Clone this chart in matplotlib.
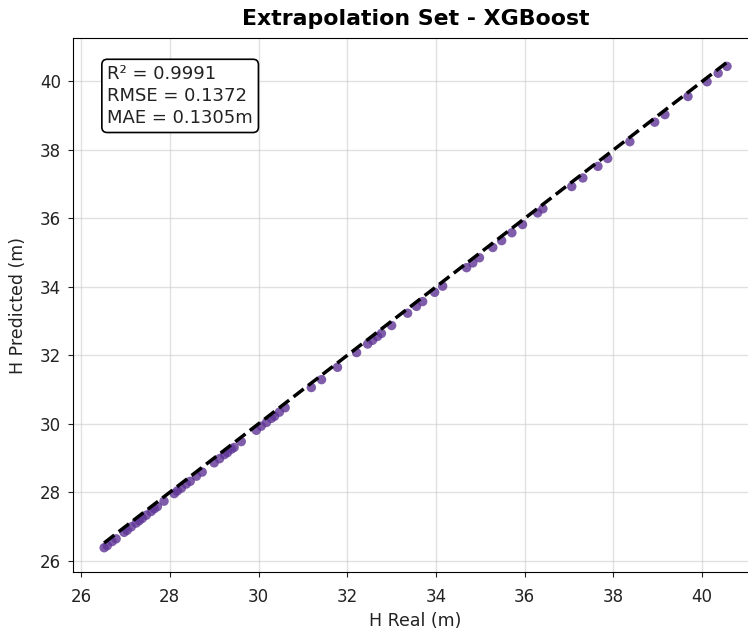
import matplotlib
matplotlib.use("Agg")
import matplotlib.pyplot as plt
import numpy as np

# Data
h_real = [26.52, 26.59, 26.70, 26.79, 26.97, 27.04, 27.13, 27.24, 27.31, 27.38,
          27.47, 27.58, 27.65, 27.72, 27.87, 28.10, 28.17, 28.26, 28.37, 28.46,
          28.60, 28.73, 29.00, 29.12, 29.23, 29.30, 29.39, 29.45, 29.61, 29.95,
          30.06, 30.18, 30.29, 30.36, 30.47, 30.60, 31.19, 31.42, 31.78, 32.21,
          32.46, 32.57, 32.68, 32.77, 33.00, 33.36, 33.56, 33.70, 33.97, 34.15,
          34.69, 34.83, 34.98, 35.28, 35.48, 35.71, 35.95, 36.29, 36.41, 37.06,
          37.31, 37.65, 37.87, 38.37, 38.93, 39.16, 39.68, 40.11, 40.36, 40.56]
h_pred = [26.38, 26.44, 26.56, 26.64, 26.83, 26.89, 26.99, 27.10, 27.17, 27.24,
          27.33, 27.44, 27.52, 27.58, 27.74, 27.96, 28.04, 28.12, 28.24, 28.32,
          28.47, 28.59, 28.86, 28.98, 29.10, 29.16, 29.26, 29.31, 29.48, 29.81,
          29.93, 30.04, 30.16, 30.22, 30.34, 30.47, 31.06, 31.29, 31.65, 32.08,
          32.33, 32.44, 32.55, 32.64, 32.87, 33.23, 33.43, 33.57, 33.84, 34.02,
          34.56, 34.70, 34.85, 35.15, 35.35, 35.58, 35.82, 36.16, 36.28, 36.93,
          37.18, 37.52, 37.75, 38.24, 38.81, 39.03, 39.56, 39.99, 40.24, 40.44]

title = "Extrapolation Set - XGBoost"
metrics_text = "R² = 0.9991\nRMSE = 0.1372\nMAE = 0.1305m"
ticks = [26, 28, 30, 32, 34, 36, 38, 40]

fig = plt.figure(figsize=(7.48, 6.29), dpi=100)
ax = fig.add_axes([0.0976, 0.0906, 0.916, 0.849])

ax.scatter(h_real, h_pred, s=46, color="#5f3596", alpha=0.8, edgecolors="none", zorder=3)
lo, hi = min(h_real), max(h_real)
ax.plot([lo, hi], [lo, hi], "k--", lw=2.5, zorder=4)

ax.set_xticks(ticks)
ax.set_yticks(ticks)
ax.tick_params(labelsize=12, colors="#222222", labelcolor="#222222")
ax.tick_params(axis="x", pad=8)
ax.tick_params(axis="y", pad=5)
ax.grid(True, color="#cccccc", alpha=0.6, lw=1)
ax.set_axisbelow(True)
ax.set_xlabel("H Real (m)", fontsize=12.5, color="#222222")
ax.set_ylabel("H Predicted (m)", fontsize=12.5, color="#222222", labelpad=9)
ax.set_title(title, fontsize=15.8, fontweight="bold", pad=9)
ax.text(0.05, 0.95, metrics_text, transform=ax.transAxes, fontsize=13,
        va="top", ha="left", color="#222222", linespacing=1.3,
        bbox=dict(boxstyle="round,pad=0.3", facecolor="white", edgecolor="black", lw=1.2))

fig.savefig("out.png", dpi=100)
